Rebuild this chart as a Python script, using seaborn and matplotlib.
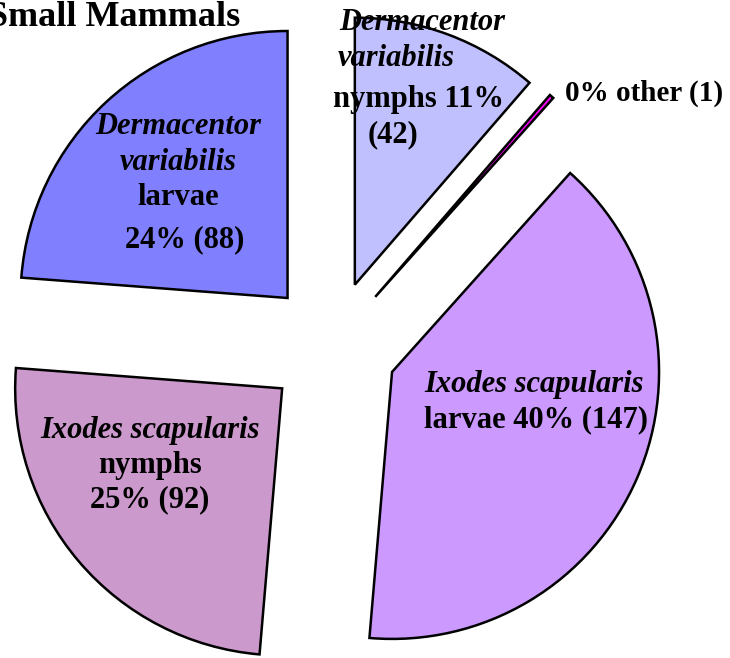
import matplotlib
matplotlib.use("Agg")
import matplotlib.pyplot as plt
import seaborn as sns

# --- dati ---
categorie = ["Dermacentor variabilis nymphs", "other",
             "Ixodes scapularis larvae", "Ixodes scapularis nymphs",
             "Dermacentor variabilis larvae"]
conteggi = [42, 1, 147, 92, 88]
colori = ["#C0C0FF", "#FF00FF", "#CC99FF", "#CC99CC", "#8080FF"]

sns.set_style("white")
plt.rcParams["font.family"] = ["Liberation Serif", "DejaVu Serif"]
plt.rcParams["text.color"] = "black"

W, H = 730, 658
CX, CY, R = 332, 346, 267  # centro e raggio in pixel


def px(x, y):
    # da pixel dell'immagine a coordinate dati
    return (x - CX) / R, (CY - y) / R


fig = plt.figure(figsize=(W / 100, H / 100), dpi=100)
ax = fig.add_axes([0, 0, 1, 1])

ax.pie(conteggi, colors=colori, startangle=90, counterclock=False,
       explode=[0.245] * len(conteggi), radius=1,
       wedgeprops=dict(edgecolor="black", linewidth=1.8))

ax.set_xlim(-CX / R, (W - CX) / R)
ax.set_ylim(-(H - CY) / R, CY / R)
ax.set_aspect("equal")
ax.axis("off")

totale = sum(conteggi)
perc = [round(100 * c / totale) for c in conteggi]

FS = 22


def riga(x, y, testo, italic=False, ha="center", fs=FS):
    ax.text(*px(x, y), testo, ha=ha, va="center", fontsize=fs,
            fontweight="bold", fontstyle="italic" if italic else "normal",
            color="black")


# titolo (tagliato a sinistra come nell'originale)
ax.text(*px(240, 17), "Small Mammals", ha="right", va="center",
        fontsize=26, fontweight="bold", color="black")

# D. variabilis nymphs
riga(422, 22, "Dermacentor", italic=True)
riga(396, 58, "variabilis", italic=True)
riga(418, 100, f"nymphs {perc[0]}%")
riga(393, 135, f"({conteggi[0]})")

# other
riga(565, 93, f"{perc[1]}% other ({conteggi[1]})", ha="left", fs=21)

# I. scapularis larvae
riga(534, 384, "Ixodes scapularis", italic=True)
riga(536, 420, f"larvae {perc[2]}% ({conteggi[2]})")

# I. scapularis nymphs
riga(150, 430, "Ixodes scapularis", italic=True)
riga(150, 465, "nymphs")
riga(150, 500, f"{perc[3]}% ({conteggi[3]})")

# D. variabilis larvae
riga(178, 127, "Dermacentor", italic=True)
riga(178, 162, "variabilis", italic=True)
riga(178, 197, "larvae")
riga(185, 240, f"{perc[4]}% ({conteggi[4]})")

fig.savefig("out.png", dpi=100)
